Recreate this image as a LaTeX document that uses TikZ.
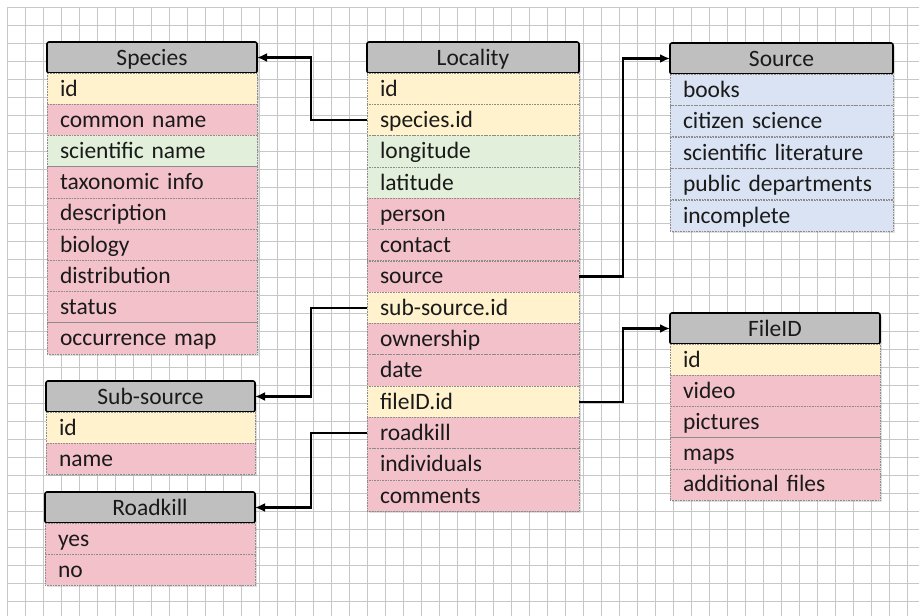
\documentclass[tikz,border=0pt]{standalone}
\usepackage{fontspec}
\setmainfont{Carlito}
\usetikzlibrary{arrows.meta,shadows}
\definecolor{keyy}{HTML}{FFF2CC}
\definecolor{attp}{HTML}{F3C1CA}
\definecolor{geog}{HTML}{E2EFDA}
\definecolor{srcb}{HTML}{DAE3F3}
\definecolor{ink}{HTML}{1A1A1A}
\begin{document}
\begin{tikzpicture}[x=1pt,y=-1pt,
  gridline/.style={black!22,line width=0.9pt},
  hdr/.style={draw=black,line width=1.6pt,rounded corners=2pt,fill=black!25,
    minimum width=#1,minimum height=31pt,inner sep=0pt,outer sep=0pt,
    text height=18pt,text depth=3pt,text=ink,anchor=north west,
    drop shadow={shadow xshift=2pt,shadow yshift=-2pt,opacity=0.25}},
  fld/.style={draw=black!45,densely dotted,line width=0.6pt,text width=#1,
    inner xsep=13pt,inner ysep=0pt,outer sep=0pt,minimum height=31.2pt,
    text height=18pt,text depth=3pt,text=ink,align=left,anchor=north west,
    drop shadow={shadow xshift=2pt,shadow yshift=-2pt,opacity=0.25}},
  link/.style={line width=2.2pt,-{Latex[length=10pt,width=9pt]}}]
\fontsize{23.5}{27}\selectfont
\useasboundingbox (0,0) rectangle (919,616);
% background grid
\foreach \gx in {7,25,...,907} \draw[gridline] (\gx,7) -- (\gx,616);
\foreach \gy in {7,25,...,603} \draw[gridline] (7,\gy) -- (919,\gy);

% Species
\node[hdr=210pt] (sp) at (47,42) {Species};
\foreach \t/\c [count=\i] in {id/keyy,common name/attp,scientific name/geog,
    taxonomic info/attp,description/attp,biology/attp,distribution/attp,
    status/attp,occurrence map/attp}
  \node[fld=184pt,fill=\c] (sp\i) at (47,{73+(\i-1)*31.2}) {\t};

% Locality
\node[hdr=212pt] (loc) at (367,42) {Locality};
\foreach \t/\c [count=\i] in {id/keyy,species.id/keyy,longitude/geog,
    latitude/geog,person/attp,contact/attp,source/attp,sub-source.id/keyy,
    ownership/attp,date/attp,fileID.id/keyy,roadkill/attp,individuals/attp,
    comments/attp}
  \node[fld=186pt,fill=\c] (loc\i) at (367,{73+(\i-1)*31.3}) {\t};

% Source
\node[hdr=223pt] (src) at (670,43) {Source};
\foreach \t [count=\i] in {books,citizen science,scientific literature,
    public departments,incomplete}
  \node[fld=197pt,fill=srcb] (src\i) at (670,{74+(\i-1)*31.5}) {\t};

% FileID
\node[hdr=210pt] (fid) at (670,313) {FileID};
\foreach \t/\c [count=\i] in {id/keyy,video/attp,pictures/attp,maps/attp,
    additional files/attp}
  \node[fld=184pt,fill=\c] (fid\i) at (670,{344+(\i-1)*31.2}) {\t};

% Sub-source
\node[hdr=209pt] (sub) at (46,381) {Sub-source};
\foreach \t/\c [count=\i] in {id/keyy,name/attp}
  \node[fld=183pt,fill=\c] (sub\i) at (46,{412+(\i-1)*31.2}) {\t};

% Roadkill
\node[hdr=210pt] (rk) at (45,492) {Roadkill};
\foreach \t [count=\i] in {yes,no}
  \node[fld=184pt,fill=attp] (rk\i) at (45,{523+(\i-1)*31.2}) {\t};

% links
\draw[link] (loc2.west) -- ++(-56,0) |- (sp.east);
\draw[link] (loc7.east) -- ++(44,0) |- (src.west);
\draw[link] (loc8.west) -- ++(-56,0) |- (sub.east);
\draw[link] (loc11.east) -- ++(44,0) |- (fid.west);
\draw[link] (loc12.west) -- ++(-56,0) |- (rk.east);
\end{tikzpicture}
\end{document}
